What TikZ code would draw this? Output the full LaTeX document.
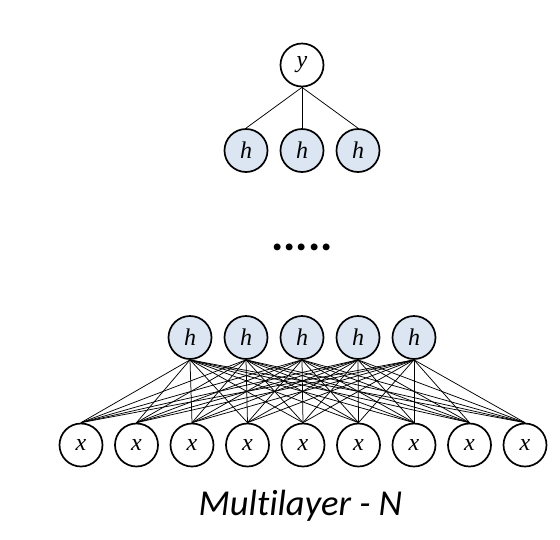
\documentclass[tikz,border=0pt]{standalone}
\usepackage{fontspec}
\setmainfont{Liberation Serif}
\newfontfamily\calib[Ligatures=NoCommon]{Carlito}
\usepackage{tikz}
\usetikzlibrary{automata, positioning}
\definecolor{col1}{rgb}{0.863, 0.902, 0.949}

\begin{document}
\begin{tikzpicture} [x = 1pt, y = -1pt, node distance = 56pt, on grid,
    every state/.style = {line width = 1.7pt, minimum size = 43pt, inner sep = 0pt,
        font = \fontsize{24}{24}\selectfont}]
\useasboundingbox (0,0) rectangle (560,539);
% top layer
\node (y) [state] at (302,65) {\textit{y}};
\node (t2) [state, below = 85.5pt of y, fill = col1] {\textit{h}};
\node (t1) [state, left = of t2, fill = col1] {\textit{h}};
\node (t3) [state, right = of t2, fill = col1] {\textit{h}};
\node (dots) at (302,247) {\calib\bfseries\fontsize{46}{46}\selectfont .....};
% first hidden layer
\node (h3) [state, fill = col1] at (302,337.5) {\textit{h}};
\node (h2) [state, left = of h3, fill = col1] {\textit{h}};
\node (h1) [state, left = of h2, fill = col1] {\textit{h}};
\node (h4) [state, right = of h3, fill = col1] {\textit{h}};
\node (h5) [state, right = of h4, fill = col1] {\textit{h}};
% input layer
\node (x5) [state] at (303,445) {\textit{x}};
\node (x4) [state, left = 55.5pt of x5] {\textit{x}};
\node (x3) [state, left = 55.5pt of x4] {\textit{x}};
\node (x2) [state, left = 55.5pt of x3] {\textit{x}};
\node (x1) [state, left = 55.5pt of x2] {\textit{x}};
\node (x6) [state, right = 55.5pt of x5] {\textit{x}};
\node (x7) [state, right = 55.5pt of x6] {\textit{x}};
\node (x8) [state, right = 55.5pt of x7] {\textit{x}};
\node (x9) [state, right = 55.5pt of x8] {\textit{x}};
\node (title) [anchor = base] at (300.5,515) {\calib\itshape\fontsize{36.5}{36.5}\selectfont Multilayer - N};
\path [line width = 0.75pt]
    (y.south) edge (t1.north)
    (y.south) edge (t2.north)
    (y.south) edge (t3.north)
    (h1.south) edge (x1.north)
    (h1.south) edge (x2.north)
    (h1.south) edge (x3.north)
    (h1.south) edge (x4.north)
    (h1.south) edge (x5.north)
    (h1.south) edge (x6.north)
    (h1.south) edge (x7.north)
    (h1.south) edge (x8.north)
    (h1.south) edge (x9.north)
    (h2.south) edge (x1.north)
    (h2.south) edge (x2.north)
    (h2.south) edge (x3.north)
    (h2.south) edge (x4.north)
    (h2.south) edge (x5.north)
    (h2.south) edge (x6.north)
    (h2.south) edge (x7.north)
    (h2.south) edge (x8.north)
    (h2.south) edge (x9.north)
    (h3.south) edge (x1.north)
    (h3.south) edge (x2.north)
    (h3.south) edge (x3.north)
    (h3.south) edge (x4.north)
    (h3.south) edge (x5.north)
    (h3.south) edge (x6.north)
    (h3.south) edge (x7.north)
    (h3.south) edge (x8.north)
    (h3.south) edge (x9.north)
    (h4.south) edge (x1.north)
    (h4.south) edge (x2.north)
    (h4.south) edge (x3.north)
    (h4.south) edge (x4.north)
    (h4.south) edge (x5.north)
    (h4.south) edge (x6.north)
    (h4.south) edge (x7.north)
    (h4.south) edge (x8.north)
    (h4.south) edge (x9.north)
    (h5.south) edge (x1.north)
    (h5.south) edge (x2.north)
    (h5.south) edge (x3.north)
    (h5.south) edge (x4.north)
    (h5.south) edge (x5.north)
    (h5.south) edge (x6.north)
    (h5.south) edge (x7.north)
    (h5.south) edge (x8.north)
    (h5.south) edge (x9.north);
\end{tikzpicture}
\end{document}
